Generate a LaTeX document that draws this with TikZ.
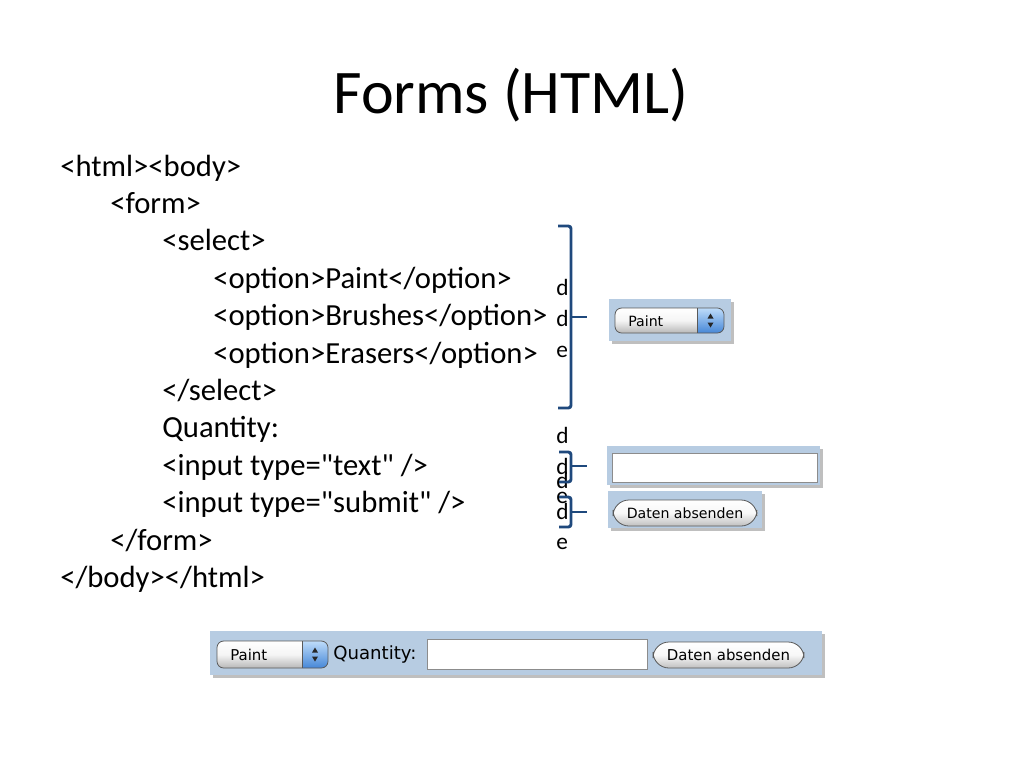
\documentclass[tikz,border=0pt]{standalone}
\usepackage{fontspec}
\setmainfont{Carlito}[Ligatures=TeXOff]
\newfontfamily\uifont{DejaVu Sans}
\usetikzlibrary{calc}
\definecolor{panelblue}{RGB}{183,204,226}
\definecolor{bracketblue}{RGB}{31,73,125}
\definecolor{stepA}{RGB}{190,220,250}
\definecolor{stepB}{RGB}{70,135,215}
\tikzset{
  codeline/.style={anchor=base west, inner sep=0pt, font=\fontsize{23}{23}\selectfont},
  overflow/.style={anchor=base west, inner sep=0pt, font=\fontsize{17.5}{17.5}\selectfont},
  bracket/.style={draw=bracketblue, line width=2.2pt, rounded corners=2pt},
  panel/.style={fill=panelblue},
  panelshadow/.style={fill=black, opacity=0.25},
  uiborder/.style={draw=black!65, line width=0.6pt},
  uitext/.style={inner sep=0pt, font=\uifont\fontsize{10.6}{11}\selectfont},
  uitextbig/.style={inner sep=0pt, font=\uifont\fontsize{11.2}{12}\selectfont},
}
\begin{document}
\begin{tikzpicture}[x=0.75pt,y=-0.75pt]
\useasboundingbox[fill=white] (0,0) rectangle (1024,768);

% title
\node[anchor=base, inner sep=0pt, font=\fontsize{46.5}{46.5}\selectfont] (title) at (511,113) {Forms (HTML)};

% code
\node[codeline] (l0) at (60,176.0) {<html><body>};
\node[codeline] (l1) at (110,213.4) {<form>};
\node[codeline] (l2) at (162,250.8) {<select>};
\node[codeline] (l3) at (213,288.2) {<option>Paint</option>};
\node[codeline] (l4) at (213,325.6) {<option>Brushes</option>};
\node[codeline] (l5) at (213,363.0) {<option>Erasers</option>};
\node[codeline] (l6) at (162,400.4) {</select>};
\node[codeline] (l7) at (162,437.8) {Quantity:};
\node[codeline] (l8) at (162,475.2) {<input type="text" />};
\node[codeline] (l9) at (162,512.6) {<input type="submit" />};
\node[codeline] (l10) at (110,550.0) {</form>};
\node[codeline] (l11) at (60,587.4) {</body></html>};

% overflowing letters
\node[overflow] (o1) at (556,295) {d};
\node[overflow] (o2) at (556,326) {d};
\node[overflow] (o3) at (556,357) {e};
\node[overflow] (o4) at (556,443) {d};
\node[overflow] (o5) at (556,474) {d};
\node[overflow] (o6) at (556,503) {e};
\node[overflow] (o7) at (556,488) {d};
\node[overflow] (o8) at (556,519) {d};
\node[overflow] (o9) at (556,549) {e};

% brackets
\draw[bracket] (558,226) -- (571,226) -- (571,408) -- (558,408);
\draw[bracket] (571,317) -- (587,317);
\draw[bracket] (559,452) -- (571,452) -- (571,482) -- (559,482);
\draw[bracket] (571,466) -- (587,466);
\draw[bracket] (559,497) -- (571,497) -- (571,527) -- (559,527);
\draw[bracket] (571,512) -- (587,512);

% ---------- top select widget
\fill[panelshadow] (612,302) rectangle (734,344);
\fill[panel] (609,299) rectangle (731,341);
\begin{scope}
  \clip[rounded corners=5] (615,308) rectangle (724,333);
  \shade[top color=white, bottom color=black!28, middle color=black!4] (615,308) rectangle (724,333);
  \shade[top color=stepA, bottom color=stepB] (697,308) rectangle (724,333);
\end{scope}
\draw[uiborder, rounded corners=5] (615,308) rectangle (724,333);
\draw[uiborder] (697,308) -- (697,333);
\fill[black!85] (707.5,318.5) -- (713.5,318.5) -- (710.5,313.5) -- cycle;
\fill[black!85] (707.5,322.5) -- (713.5,322.5) -- (710.5,327.5) -- cycle;
\node[uitext, anchor=west] (paint1) at (628,321) {Paint};

% ---------- top text field
\fill[panelshadow] (610,449) rectangle (823,488);
\fill[panel] (607,446) rectangle (820,485);
\fill[white] (612,453) rectangle (817,482);
\draw[draw=black!45, line width=0.6pt] (612,453) rectangle (817,482);

% ---------- top button
\fill[panelshadow] (611,494) rectangle (765,531);
\fill[panel] (608,491) rectangle (762,528);
\shade[rounded corners=12, top color=white, bottom color=black!25, middle color=black!3] (613,500) rectangle (757,526);
\draw[uiborder, rounded corners=12] (613,500) rectangle (757,526);
\node[uitext] (btn1) at (685,513) {Daten absenden};

% ---------- bottom bar
\fill[panelshadow] (213,634) rectangle (825,678);
\fill[panel] (210,631) rectangle (822,675);
\begin{scope}
  \clip[rounded corners=5] (217,641) rectangle (328,668);
  \shade[top color=white, bottom color=black!28, middle color=black!4] (217,641) rectangle (328,668);
  \shade[top color=stepA, bottom color=stepB] (302,641) rectangle (328,668);
\end{scope}
\draw[uiborder, rounded corners=5] (217,641) rectangle (328,668);
\draw[uiborder] (302,641) -- (302,668);
\fill[black!85] (312,652.5) -- (318,652.5) -- (315,647.5) -- cycle;
\fill[black!85] (312,656.5) -- (318,656.5) -- (315,661.5) -- cycle;
\node[uitextbig, anchor=west] (paint2) at (230,655) {Paint};
\node[inner sep=0pt, anchor=west, font=\uifont\fontsize{13.6}{14}\selectfont] (qty) at (333,654) {Quantity:};
\fill[white] (427,639) rectangle (647,669);
\draw[draw=black!45, line width=0.6pt] (427,639) rectangle (647,669);
\shade[rounded corners=12, top color=white, bottom color=black!25, middle color=black!3] (653,642) rectangle (804,668);
\draw[uiborder, rounded corners=12] (653,642) rectangle (804,668);
\node[uitextbig] (btn2) at (728.5,655) {Daten absenden};
\end{tikzpicture}
\end{document}
